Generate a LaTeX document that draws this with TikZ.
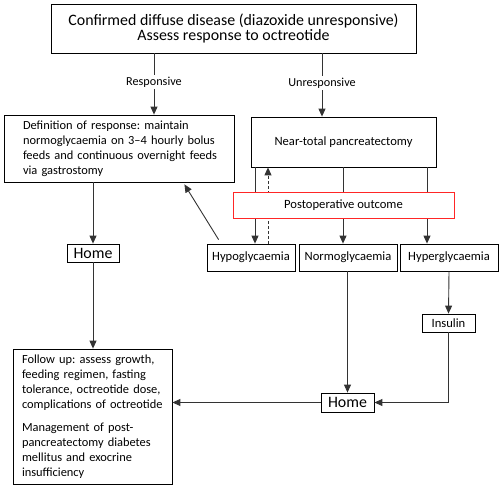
\documentclass[tikz,border=0pt]{standalone}
\usepackage{fontspec}
\setmainfont{Carlito}
\usetikzlibrary{arrows.meta,calc}
\frenchspacing
\begin{document}
\begin{tikzpicture}[x=1pt,y=-1pt,
  box/.style={draw=black,line width=0.8pt,fill=white,inner sep=0pt,font=\fontsize{12.6}{15}\selectfont},
  para/.style={box,font=\fontsize{12.4}{15}\selectfont,align=left},
  big/.style={box,font=\fontsize{15.9}{15}\selectfont},
  conn/.style={draw=black!80,line width=0.9pt},
  arr/.style={conn,-{Triangle[length=8pt,width=7pt]}},
  lab/.style={fill=white,inner sep=2pt,font=\fontsize{12.2}{12}\selectfont}]
\useasboundingbox (0,0) rectangle (502,489);
\node[box,font=\fontsize{15.9}{15}\selectfont,minimum width=365pt,minimum height=49pt,align=center] (top) at (233.5,28.5)
  {Confirmed diffuse disease (diazoxide unresponsive)\\Assess response to octreotide};
\node[para,minimum width=230pt,minimum height=67pt,text width=200pt,inner xsep=15pt] (def) at (119,148.5)
  {\hspace*{4pt}Definition of response: maintain\\\hspace*{4pt}normoglycaemia on 3–4 hourly bolus\\\hspace*{4pt}feeds and continuous overnight feeds\\\hspace*{4pt}via gastrostomy};
\node[box,minimum width=185pt,minimum height=50pt] (near) at (343.5,142) {Near-total pancreatectomy};
\node[big,minimum width=52pt,minimum height=18pt] (home1) at (93,253) {Home};
\node[box,minimum width=88pt,minimum height=27pt] (hypo) at (251,257.5) {Hypoglycaemia};
\node[box,minimum width=98pt,minimum height=27pt] (normo) at (348,257.5) {Normoglycaemia};
\node[box,minimum width=98pt,minimum height=27pt] (hyper) at (449,257.5) {Hyperglycaemia};
\node[box,minimum width=53pt,minimum height=18pt] (insulin) at (448.5,323) {Insulin};
\node[big,minimum width=53pt,minimum height=19pt] (home2) at (347.5,402.5) {Home};
\node[para,minimum width=159pt,minimum height=135pt,text width=145pt,inner xsep=7pt] (follow) at (92.5,416.5)
  {\hspace*{2pt}Follow up: assess growth,\\\hspace*{2pt}feeding regimen, fasting\\\hspace*{2pt}tolerance, octreotide dose,\\\hspace*{2pt}complications of octreotide\\[8pt]\hspace*{2pt}Management of post-\\\hspace*{2pt}pancreatectomy diabetes\\\hspace*{2pt}mellitus and exocrine\\\hspace*{2pt}insufficiency};
% connectors
\draw[arr] (154,0 |- top.south) -- (154,0 |- def.north) node[lab,pos=0.47] (lresp) {Responsive};
\draw[arr] (322,0 |- top.south) -- (322,0 |- near.north) node[lab,pos=0.47] (lunr) {Unresponsive};
\draw[arr] (255,0 |- near.south) -- (255,0 |- hypo.north);
\draw[arr] (343,0 |- near.south) -- (343,0 |- normo.north);
\draw[arr] (427,0 |- near.south) -- (427,0 |- hyper.north);
\draw[arr,dashed,dash pattern=on 3pt off 2pt] (268,0 |- hypo.north) -- (268,0 |- near.south);
\node[box,draw=red!85,minimum width=221pt,minimum height=26pt] (post) at (343.5,205) {Postoperative outcome};
\draw[arr] ([shift={(12,-4)}]hypo.north west) -- ([shift={(-50,2)}]def.south east);
\draw[arr] (home1.north |- def.south) -- (home1.north);
\draw[arr] (home1.south) -- (home1.south |- follow.north);
\draw[arr] (hyper.south) -- (insulin.north);
\draw[arr] (normo.south -| home2.north) -- (home2.north);
\draw[arr] (insulin.south) -- (insulin.south |- home2.east) -- (home2.east);
\draw[arr] (home2.west) -- (follow.east |- home2.west);
\end{tikzpicture}
\end{document}
